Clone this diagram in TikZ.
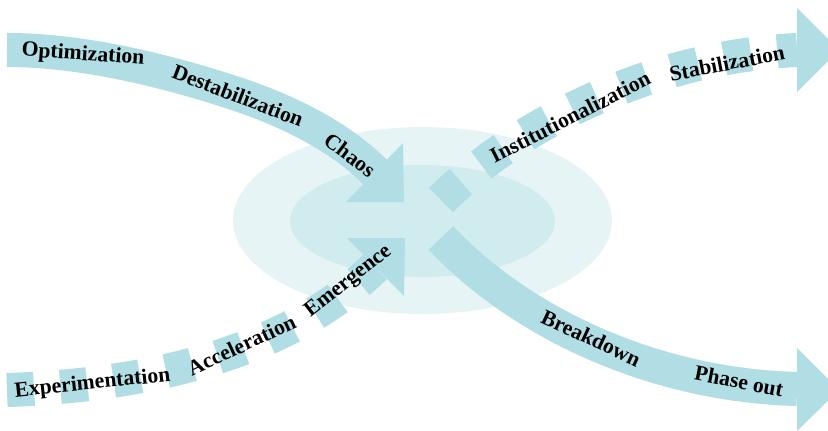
\documentclass[tikz,border=0pt]{standalone}
\usepackage{fontspec}
\setmainfont{Liberation Serif}
\usetikzlibrary{calc}
\definecolor{flowteal}{RGB}{176,222,228}
\definecolor{haloouter}{RGB}{230,244,246}
\definecolor{haloinner}{RGB}{208,236,239}

\tikzset{
  band/.style={flowteal, line width=24.2pt},
  dashband/.style={band, dash pattern=on 19.2pt off 18.85pt},
  phase/.style={font=\fontsize{15.4}{18}\selectfont\bfseries, inner sep=0pt, text=black}
}

\begin{document}
\begin{tikzpicture}[x=0.025cm, y=-0.025cm]
 \useasboundingbox (0,0) rectangle (828,430);
 \clip (0,0) rectangle (828,430);

 % Halo round the turning point
 \fill[haloouter] (422.5,220.5) ellipse (189.5 and 93.5);
 \fill[haloinner] (422.5,221) ellipse (132.5 and 56);

 % Old system coming in from the top left
 \coordinate (oldstart) at (7,50);
 \coordinate (oldend) at (375,172);
 \draw[band] (oldstart) .. controls (90,50) and (180,75) .. (240,95)
   .. controls (290,112) and (340,137) .. (oldend);
 \fill[flowteal] (403,143) -- (404,202) -- (346,202) -- cycle;

 % New system rising from the bottom left
 \coordinate (newstart) at (7,390);
 \coordinate (newend) at (375,267);
 \draw[dashband] (newstart) .. controls (157,385) and (290,350) .. (newend);
 \fill[flowteal] (347,238) -- (405,238) -- (404,296) -- cycle;

 % New system going on to the top right
 \coordinate (upstart) at (441,200);
 \coordinate (upend) at (797,50);
 \draw[dashband] (upstart) .. controls (512,129) and (647,57) .. (upend);
 \fill[flowteal] (797,8) -- (839,50) -- (797,92) -- cycle;

 % Old system going down to the bottom right
 \coordinate (downstart) at (441,238);
 \coordinate (downend) at (797,389);
 \draw[band] (downstart) .. controls (516,318) and (647,385) .. (downend);
 \fill[flowteal] (797,348) -- (839,390) -- (797,431) -- cycle;

 % Labels
 \node[phase, rotate=-4] (optim) at (83,55) {Optimization};
 \node[phase, rotate=-21] (destab) at (238,95.5) {Destabilization};
 \node[phase, rotate=-37] (chaos) at (350,155) {Chaos};
 \node[phase, rotate=6] (exper) at (92.5,384) {Experimentation};
 \node[phase, rotate=25] (accel) at (241.5,345) {Acceleration};
 \node[phase, rotate=38] (emerg) at (348.5,281.5) {Emergence};
 \node[phase, rotate=27] (instit) at (570,117) {Institutionalization};
 \node[phase, rotate=11] (stabil) at (727,63) {Stabilization};
 \node[phase, rotate=-25] (breakd) at (591,338) {Breakdown};
 \node[phase, rotate=-11] (phaseout) at (739,381) {Phase out};
\end{tikzpicture}
\end{document}
